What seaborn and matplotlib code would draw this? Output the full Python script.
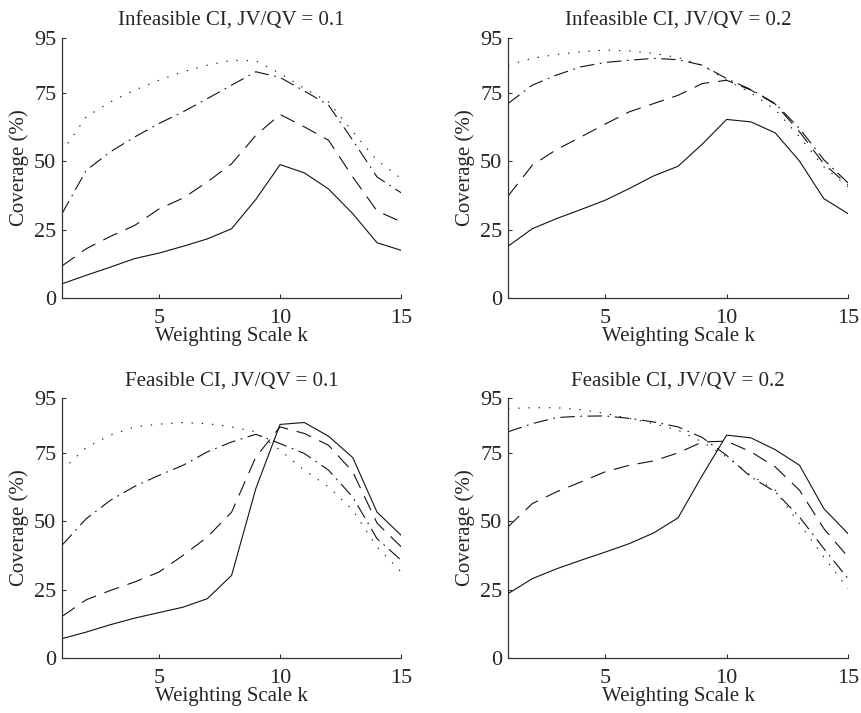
import numpy as np
import pandas as pd
import seaborn as sns
import matplotlib.pyplot as plt
import matplotlib as mpl

sns.set_theme(style="white")
plt.rcParams['font.family'] = ['Liberation Serif', 'DejaVu Serif']
mpl.rcParams['xtick.direction'] = 'in'
mpl.rcParams['ytick.direction'] = 'in'

k = list(range(1, 16))

# Infeasible CI, JV/QV = 0.1
inf1_solid = [5.2, 8.3, 11.3, 14.4, 16.4, 18.9, 21.6, 25.3, 36.0, 48.7, 45.7, 39.8, 30.8, 20.2, 17.4]
inf1_dash = [11.7, 18.0, 22.5, 26.5, 32.5, 36.5, 42.4, 49.0, 59.4, 67.0, 62.5, 57.6, 44.2, 31.8, 27.8]
inf1_dashdot = [30.8, 46.6, 53.4, 58.8, 63.7, 68.0, 72.8, 77.7, 82.6, 80.5, 75.6, 70.4, 57.6, 44.2, 38.4]
inf1_dot = [53.4, 66.1, 71.6, 75.9, 79.5, 82.6, 85.0, 86.8, 86.6, 82.0, 76.5, 71.6, 60.7, 50.3, 43.6]

# Infeasible CI, JV/QV = 0.2
inf2_solid = [18.9, 25.3, 29.0, 32.3, 35.7, 40.0, 44.6, 48.1, 56.2, 65.2, 64.3, 60.3, 50.0, 36.3, 30.8]
inf2_dash = [37.2, 48.5, 54.2, 58.8, 63.5, 68.0, 71.0, 74.0, 78.3, 79.5, 75.9, 70.8, 60.7, 49.0, 41.2]
inf2_dashdot = [71.0, 77.7, 81.4, 84.4, 86.0, 86.8, 87.5, 87.0, 85.0, 80.1, 76.1, 71.0, 61.9, 50.5, 42.0]
inf2_dot = [85.0, 87.5, 88.9, 89.9, 90.5, 90.2, 89.3, 87.8, 85.0, 79.5, 74.9, 68.8, 58.8, 47.9, 40.6]

# Feasible CI, JV/QV = 0.1
fea1_solid = [7.1, 9.5, 12.2, 14.6, 16.6, 18.6, 21.7, 30.2, 61.9, 85.3, 86.0, 81.0, 73.2, 53.3, 44.8]
fea1_dash = [15.2, 21.3, 24.7, 27.8, 31.4, 37.5, 44.2, 53.3, 73.4, 84.4, 82.0, 77.7, 68.0, 49.3, 40.6]
fea1_dashdot = [41.2, 50.9, 57.6, 62.7, 66.7, 70.4, 75.3, 78.9, 81.7, 78.3, 74.7, 68.6, 58.8, 43.6, 35.7]
fea1_dot = [68.6, 76.9, 81.4, 84.4, 85.4, 86.0, 85.6, 84.4, 82.6, 75.9, 68.6, 62.5, 54.0, 40.6, 31.4]

# Feasible CI, JV/QV = 0.2
fea2_solid = [23.5, 29.0, 32.6, 35.7, 38.7, 41.8, 45.7, 51.2, 66.7, 81.4, 80.4, 76.1, 70.4, 54.6, 45.4]
fea2_dash = [47.9, 56.4, 60.7, 64.3, 68.0, 70.4, 72.0, 74.9, 78.9, 79.2, 75.3, 69.8, 61.3, 47.3, 36.9]
fea2_dashdot = [82.6, 85.6, 87.8, 88.3, 88.4, 87.5, 86.2, 84.4, 80.5, 74.0, 66.1, 60.7, 51.5, 40.0, 29.0]
fea2_dot = [91.1, 91.4, 91.4, 90.7, 89.3, 87.5, 85.6, 83.2, 78.9, 73.4, 66.7, 61.3, 49.0, 36.9, 25.3]

titles = ["Infeasible CI, JV/QV = 0.1", "Infeasible CI, JV/QV = 0.2",
          "Feasible CI, JV/QV = 0.1", "Feasible CI, JV/QV = 0.2"]
panels = [
    [inf1_solid, inf1_dash, inf1_dashdot, inf1_dot],
    [inf2_solid, inf2_dash, inf2_dashdot, inf2_dot],
    [fea1_solid, fea1_dash, fea1_dashdot, fea1_dot],
    [fea2_solid, fea2_dash, fea2_dashdot, fea2_dot],
]
series_names = ["solid", "dash", "dashdot", "dot"]

lw = 0.8
dash_styles = {
    "solid": "",
    "dash": (14, 8),
    "dashdot": (13, 5, 1.5, 5),
    "dot": (1.2, 8),
}

fig = plt.figure(figsize=(8.61, 7.13), dpi=100)
positions = [
    [0.072, 0.582, 0.394, 0.365],
    [0.590, 0.582, 0.395, 0.365],
    [0.072, 0.077, 0.394, 0.365],
    [0.590, 0.077, 0.395, 0.365],
]

for i, (title, series) in enumerate(zip(titles, panels)):
    rows = []
    for name, vals in zip(series_names, series):
        for kk, v in zip(k, vals):
            rows.append({"k": kk, "coverage": v, "series": name})
    df = pd.DataFrame(rows)

    ax = fig.add_axes(positions[i])
    sns.lineplot(data=df, x="k", y="coverage", style="series",
                 dashes=dash_styles, color="#111111", linewidth=lw,
                 ax=ax, legend=False)
    ax.set_xlim(1, 15)
    ax.set_ylim(0, 95)
    ax.set_xticks([5, 10, 15])
    ax.set_yticks([0, 25, 50, 75, 95])
    ax.tick_params(labelsize=16, length=3, width=0.8, color="#333333",
                   top=False, right=False, bottom=True, left=True)
    ax.tick_params(axis="x", pad=8)
    ax.tick_params(axis="y", pad=4)
    for side in ["top", "right"]:
        ax.spines[side].set_visible(False)
    for side in ["left", "bottom"]:
        ax.spines[side].set_color("#333333")
        ax.spines[side].set_linewidth(0.9)
    ax.set_title(title, fontsize=15, pad=9)
    ax.set_ylabel("Coverage (%)", fontsize=15, labelpad=4)
    ax.set_xlabel("Weighting Scale k", fontsize=15, labelpad=-1)

fig.savefig("out.png", dpi=100)
